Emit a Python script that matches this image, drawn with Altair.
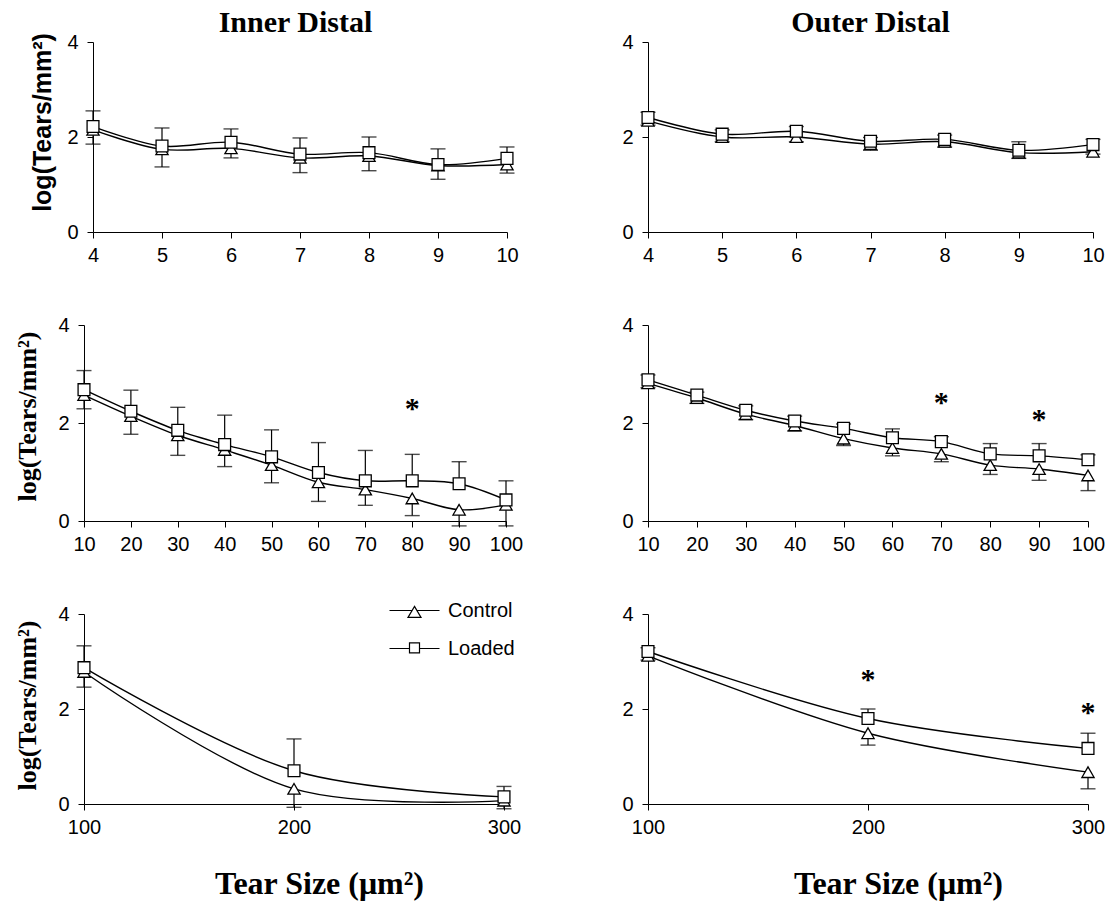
import altair as alt
import pandas as pd

# Tear-size bins (x values) for each row of panels
sizes_small = [4, 5, 6, 7, 8, 9, 10]
sizes_mid = [10, 20, 30, 40, 50, 60, 70, 80, 90, 100]
sizes_large = [100, 200, 300]

# Inner distal region: log(tears/mm^2), with Loaded +SD and Control -SD bar ends
inner_small_control = [2.15, 1.74, 1.76, 1.56, 1.60, 1.40, 1.42]
inner_small_loaded = [2.22, 1.81, 1.89, 1.64, 1.67, 1.42, 1.55]
inner_small_control_lo = [1.85, 1.37, 1.56, 1.25, 1.29, 1.11, 1.24]
inner_small_loaded_hi = [2.55, 2.19, 2.17, 1.98, 2.00, 1.75, 1.79]

inner_mid_control = [2.57, 2.14, 1.75, 1.45, 1.14, 0.79, 0.64, 0.46, 0.23, 0.33]
inner_mid_loaded = [2.68, 2.24, 1.85, 1.56, 1.31, 0.99, 0.82, 0.82, 0.76, 0.43]
inner_mid_control_lo = [2.29, 1.77, 1.34, 1.11, 0.78, 0.40, 0.32, 0.11, -0.10, -0.10]
inner_mid_loaded_hi = [3.07, 2.67, 2.32, 2.16, 1.86, 1.60, 1.44, 1.36, 1.21, 0.82]

inner_large_control = [2.78, 0.32, 0.07]
inner_large_loaded = [2.87, 0.70, 0.15]
inner_large_control_lo = [2.46, -0.07, -0.10]
inner_large_loaded_hi = [3.33, 1.37, 0.37]

# Outer distal region
outer_small_control = [2.34, 2.00, 2.00, 1.85, 1.90, 1.67, 1.69]
outer_small_loaded = [2.41, 2.06, 2.12, 1.91, 1.95, 1.72, 1.84]
outer_small_control_lo = [2.25, 1.90, 1.90, 1.72, 1.79, 1.55, 1.64]
outer_small_loaded_hi = [2.52, 2.15, 2.22, 1.99, 2.04, 1.90, 1.95]

outer_mid_control = [2.81, 2.51, 2.18, 1.95, 1.68, 1.49, 1.37, 1.14, 1.06, 0.93]
outer_mid_loaded = [2.88, 2.57, 2.26, 2.04, 1.89, 1.70, 1.62, 1.37, 1.33, 1.25]
outer_mid_control_lo = [2.72, 2.40, 2.07, 1.84, 1.54, 1.33, 1.21, 0.95, 0.83, 0.62]
outer_mid_loaded_hi = [2.98, 2.63, 2.35, 2.14, 1.98, 1.88, 1.72, 1.58, 1.58, 1.35]

outer_large_control = [3.12, 1.49, 0.67]
outer_large_loaded = [3.21, 1.80, 1.17]
outer_large_control_lo = [3.03, 1.24, 0.32]
outer_large_loaded_hi = [3.29, 2.00, 1.49]

# Significance markers (size, height of the asterisk)
inner_mid_stars = {"size": [80], "value": [2.41]}
outer_mid_stars = {"size": [70, 90], "value": [2.54, 2.19]}
outer_large_stars = {"size": [200, 300], "value": [2.73, 2.04]}

groups = ["Control", "Loaded"]

SANS = "Liberation Sans"
SERIF = "Liberation Serif"
Y_TITLE = "log(Tears/mm²)"
X_TITLE = "Tear Size (μm²)"

# legend glyphs: a short line with the open marker in the middle
legend_control = "M-2,0L-0.19,0M0.19,0L2,0M0,-0.33L0.52,0.55L-0.52,0.55Z"
legend_loaded = "M-2,0L-0.4,0M0.4,0L2,0M-0.4,-0.45L0.4,-0.45L0.4,0.35L-0.4,0.35Z"


def frame(sizes, ctrl, load, ctrl_lo, load_hi):
    rows = []
    for s, c, l, cl, lh in zip(sizes, ctrl, load, ctrl_lo, load_hi):
        rows.append({"size": s, "group": "Control", "value": c, "bar_end": cl})
        rows.append({"size": s, "group": "Loaded", "value": l, "bar_end": lh})
    return pd.DataFrame(rows)


def panel(df, xdomain, xticks, width, height, stars=None, x_range=None,
          y_offset=0, y_title=None, x_title=None, title=None, legend=False):
    scale_kw = {"domain": xdomain, "nice": False, "zero": False}
    if x_range:
        scale_kw["range"] = x_range
    x_axis_kw = dict(values=xticks, tickSize=6, labelPadding=7, labelFont=SANS,
                     labelFontSize=20, labelColor="black", domainColor="black",
                     tickColor="black", grid=False, labelOverlap=False,
                     labelFlush=False, format="d")
    if x_title:
        x_axis_kw.update(title=X_TITLE, titleFont=SERIF, titleFontSize=32,
                         titleFontWeight="bold", titleColor="black",
                         titleBaseline="alphabetic", titleX=x_title["x"],
                         titleY=x_title["y"], titleAlign="center")
    else:
        x_axis_kw["title"] = ""
    y_axis_kw = dict(values=[0, 2, 4], tickSize=6, labelPadding=9, labelFont=SANS,
                     labelFontSize=20, labelColor="black", domainColor="black",
                     tickColor="black", grid=False, offset=y_offset, format="d")
    if y_title:
        y_axis_kw.update(title=Y_TITLE, titleFont=y_title["font"],
                         titleFontSize=y_title["size"], titleFontWeight="bold",
                         titleColor="black", titleBaseline="alphabetic",
                         titleX=y_title["x"], titleY=y_title["y"],
                         titleAlign="center", titleAngle=270)
    else:
        y_axis_kw["title"] = ""

    x = alt.X("size:Q", scale=alt.Scale(**scale_kw), axis=alt.Axis(**x_axis_kw))
    y_scale = alt.Scale(domain=[0, 4], nice=False, zero=False)
    y_axis = alt.Axis(**y_axis_kw)
    y = alt.Y("value:Q", scale=y_scale, axis=y_axis)
    y_end = alt.Y("bar_end:Q", scale=y_scale, axis=y_axis)

    base = alt.Chart(df)
    lines = base.mark_line(interpolate="catmull-rom", color="black",
                           strokeWidth=1.4).encode(x=x, y=y, detail="group:N")
    bars = base.mark_rule(color="black", strokeWidth=1.2).encode(
        x=x, y=y, y2="bar_end:Q")
    caps = base.mark_tick(orient="horizontal", color="black", size=15,
                          thickness=1.4).encode(x=x, y=y_end)
    tri = base.transform_filter(alt.datum.group == "Control").mark_point(
        shape="triangle-up", filled=True, fill="white", stroke="black",
        strokeWidth=1.3, size=150, opacity=1).encode(x=x, y=y)
    sq = base.transform_filter(alt.datum.group == "Loaded").mark_point(
        shape="square", filled=True, fill="white", stroke="black",
        strokeWidth=1.3, size=140, opacity=1).encode(x=x, y=y)
    layers = [lines, bars, caps, tri, sq]

    if stars:
        star_layer = alt.Chart(pd.DataFrame(stars)).mark_text(
            text="*", font=SERIF, fontSize=30, fontWeight="bold",
            color="black", baseline="alphabetic", dy=15).encode(x=x, y=y)
        layers.append(star_layer)

    if legend:
        key = base.transform_filter("false").mark_point(
            filled=False, color="black", strokeWidth=1.2,
            size=625, opacity=1).encode(
            x=x, y=y,
            shape=alt.Shape("group:N", scale=alt.Scale(
                domain=groups, range=[legend_control, legend_loaded]),
                legend=alt.Legend(title=None, orient="none", legendX=legend["x"],
                                  legendY=legend["y"], direction="vertical",
                                  labelFont=SANS, labelFontSize=20,
                                  labelColor="black", symbolSize=625,
                                  symbolStrokeWidth=1.2,
                                  symbolStrokeColor="black", symbolOpacity=1,
                                  labelOffset=20, rowPadding=14, padding=0,
                                  labelLimit=300)))
        layers.append(key)

    props = {"width": width, "height": height}
    if title:
        props["title"] = alt.TitleParams(title, font=SERIF, fontSize=30,
                                         fontWeight="bold", color="black",
                                         anchor="middle", frame="group",
                                         baseline="alphabetic", offset=-30)
    return alt.layer(*layers).properties(**props)


inner_small = panel(
    frame(sizes_small, inner_small_control, inner_small_loaded,
          inner_small_control_lo, inner_small_loaded_hi),
    [4, 10], sizes_small, 423, 190, x_range=[9, 423], y_offset=-9,
    y_title={"font": SANS, "size": 25, "x": -43, "y": 80},
    title="Inner Distal")
outer_small = panel(
    frame(sizes_small, outer_small_control, outer_small_loaded,
          outer_small_control_lo, outer_small_loaded_hi),
    [4, 10], sizes_small, 445, 190, title="Outer Distal")

inner_mid = panel(
    frame(sizes_mid, inner_mid_control, inner_mid_loaded,
          inner_mid_control_lo, inner_mid_loaded_hi),
    [10, 100], sizes_mid, 422, 196, stars=inner_mid_stars,
    y_title={"font": SERIF, "size": 26, "x": -49, "y": 91})
outer_mid = panel(
    frame(sizes_mid, outer_mid_control, outer_mid_loaded,
          outer_mid_control_lo, outer_mid_loaded_hi),
    [10, 100], sizes_mid, 440, 196, stars=outer_mid_stars)

inner_large = panel(
    frame(sizes_large, inner_large_control, inner_large_loaded,
          inner_large_control_lo, inner_large_loaded_hi),
    [100, 300], sizes_large, 420, 190,
    y_title={"font": SERIF, "size": 26, "x": -49, "y": 91},
    x_title={"x": 235, "y": 89},
    legend={"x": 317, "y": 555})
outer_large = panel(
    frame(sizes_large, outer_large_control, outer_large_loaded,
          outer_large_control_lo, outer_large_loaded_hi),
    [100, 300], sizes_large, 440, 190, stars=outer_large_stars,
    x_title={"x": 250, "y": 89})

row1 = alt.hconcat(inner_small, outer_small, spacing=141, bounds="flush")
row2 = alt.hconcat(inner_mid, outer_mid, spacing=142, bounds="flush")
row3 = alt.hconcat(inner_large, outer_large, spacing=144, bounds="flush")

chart = alt.vconcat(row1, row2, row3, spacing=50).properties(
    padding={"left": 14, "top": 8, "right": 5, "bottom": 5}
).configure(background="white").configure_view(stroke=None)

chart.save("out.html", embed_options={"renderer": "svg", "actions": False})
